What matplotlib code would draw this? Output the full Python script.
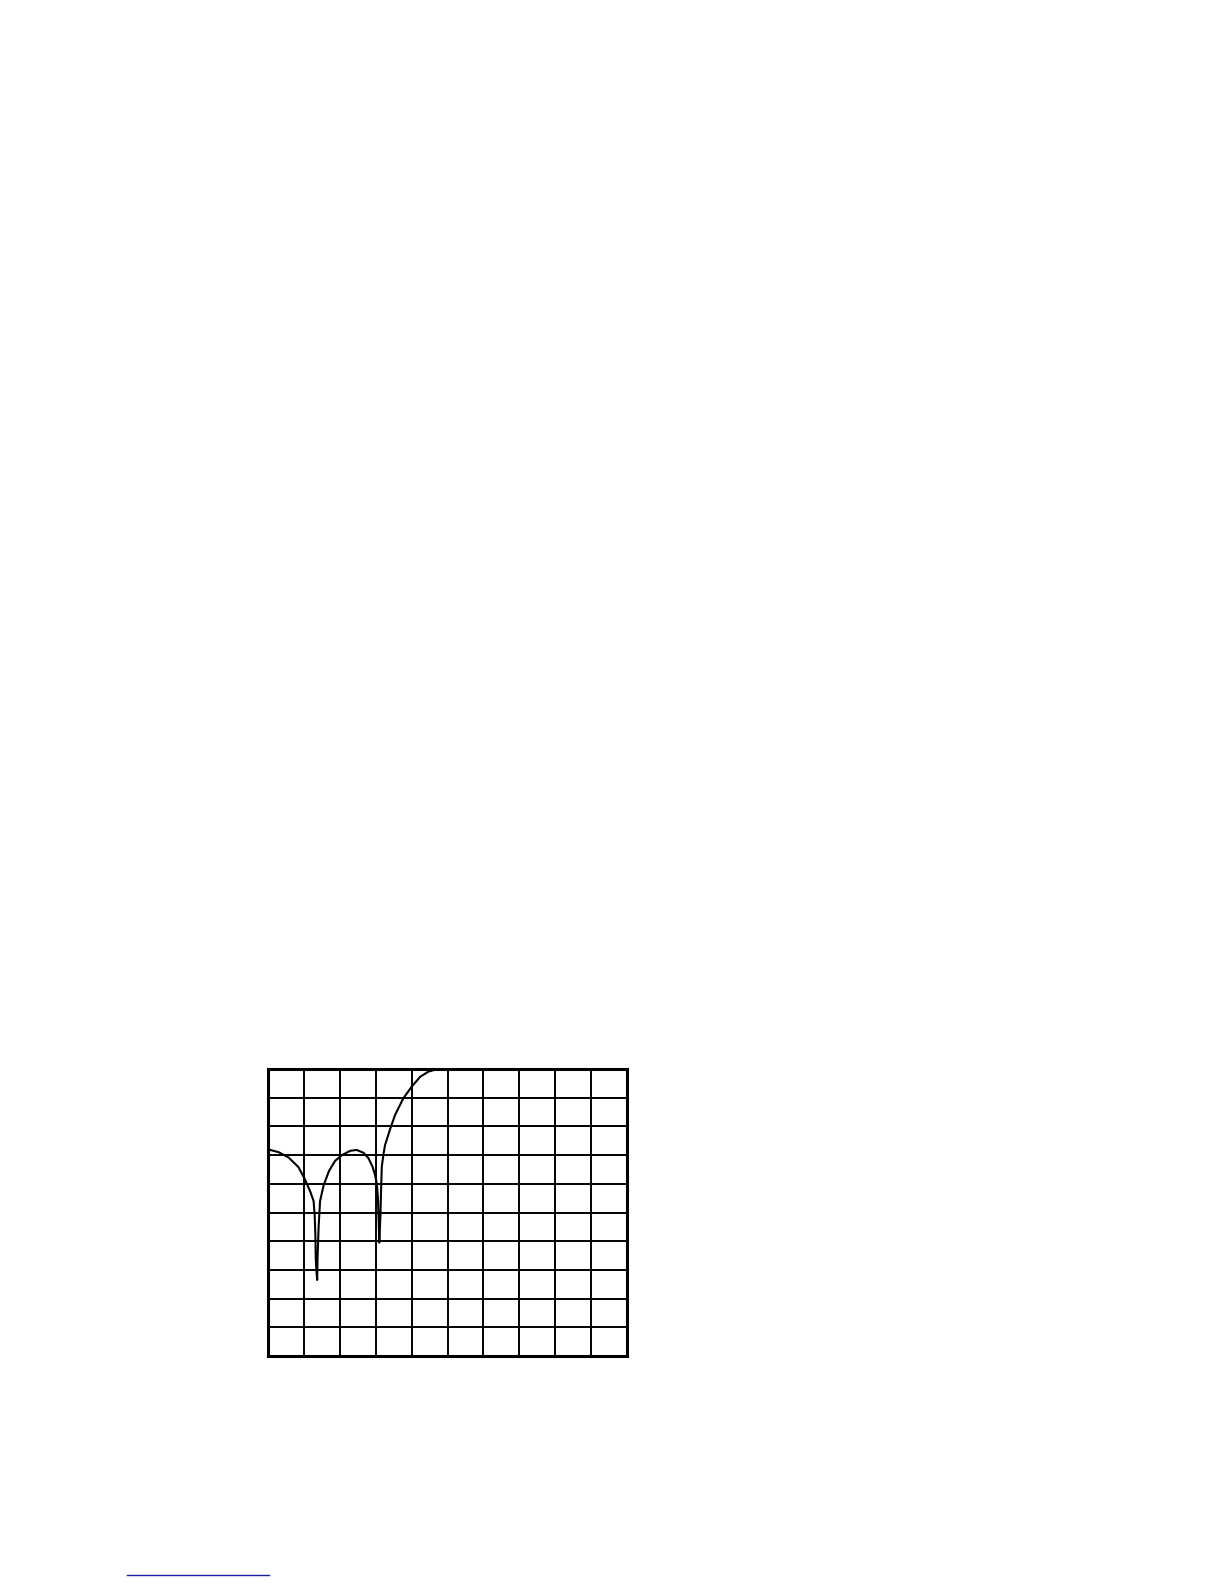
import numpy as np
import matplotlib
matplotlib.use("Agg")
import matplotlib.pyplot as plt
from matplotlib.lines import Line2D

# curve (x in columns, y in rows, both 0..10)
curve_x = [0.00, 0.30, 0.57, 0.85, 1.03, 1.18, 1.27, 1.30, 1.32, 1.33,
           1.35, 1.37, 1.38, 1.41, 1.45, 1.55, 1.70, 1.87, 2.06, 2.29,
           2.47, 2.66, 2.80, 2.91, 2.98, 3.03, 3.06, 3.08, 3.10, 3.13,
           3.15, 3.17, 3.22, 3.26, 3.40, 3.54, 3.77, 4.00, 4.24, 4.47,
           4.70, 4.98]
curve_y = [7.20, 7.10, 6.92, 6.58, 6.15, 5.72, 5.40, 4.90, 4.20, 3.40,
           2.95, 2.65, 3.40, 4.50, 5.40, 5.95, 6.45, 6.80, 7.00, 7.15,
           7.18, 7.08, 6.89, 6.60, 6.31, 6.02, 5.55, 4.85, 3.95, 4.85,
           5.78, 6.60, 7.06, 7.35, 7.90, 8.40, 8.98, 9.38, 9.73, 9.91,
           9.99, 10.00]

n_cols = 10
n_rows = 10

fig = plt.figure(figsize=(12.24, 15.84), dpi=100)
ax = fig.add_axes([268 / 1224, 1 - 1356 / 1584, 359 / 1224, 287 / 1584])

ax.plot(curve_x, curve_y, color="black", lw=1.5, solid_joinstyle="round")

ax.set_xlim(0, n_cols)
ax.set_ylim(0, n_rows)
ax.set_xticks(np.arange(n_cols + 1))
ax.set_yticks(np.arange(n_rows + 1))
ax.tick_params(length=0, labelbottom=False, labelleft=False)
ax.grid(True, color="black", lw=1.4)
for sp in ax.spines.values():
    sp.set_linewidth(2.2)

# little underline near the bottom of the page
fig.add_artist(Line2D([127 / 1224, 269 / 1224], [1 - 1575 / 1584] * 2,
                      color="#1c1ca0", lw=1.0))

fig.savefig("out.png", dpi=100, facecolor="white")
